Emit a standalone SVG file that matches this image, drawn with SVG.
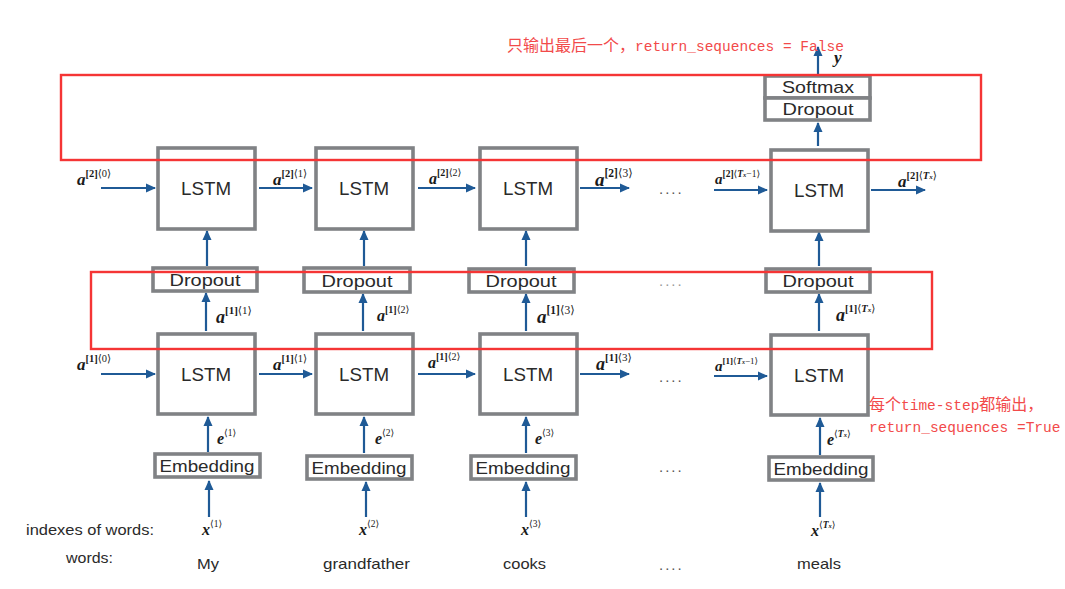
<svg xmlns="http://www.w3.org/2000/svg" width="1065" height="589" viewBox="0 0 1065 589">
<defs>
<marker id="ah" markerUnits="userSpaceOnUse" markerWidth="10" markerHeight="10" viewBox="0 0 10 10" refX="9" refY="5" orient="auto">
<path d="M0,0.5 L10,5 L0,9.5 Z" fill="#1f5a96"/>
</marker>
<style>
.box{fill:#fff;stroke:#808285;stroke-width:3.6}
.red{fill:none;stroke:#f53535;stroke-width:2.4}
.lbl{font-family:"Liberation Sans","Helvetica",Arial,sans-serif;fill:#2a2a2a}
.ar{stroke:#1f5a96;stroke-width:2.2;fill:none;marker-end:url(#ah)}
.m{font-family:"Liberation Serif","DejaVu Serif",serif;fill:#1a1a1a}
.v{font-weight:bold;font-style:italic}
.s{font-weight:bold}
.dots{font-family:"Liberation Sans",Arial,sans-serif;fill:#555;font-size:15px;letter-spacing:2px}
.rt{fill:#f24a4a}
.cj{font-family:"Noto Sans CJK SC","Noto Sans CJK JP",sans-serif;font-size:16px}
.mono{font-family:"Liberation Mono","Courier New",monospace;font-size:14.5px}
</style>
</defs>

<g id="connectors">
<line class="ar" x1="101" y1="188" x2="155" y2="188"/>
<line class="ar" x1="259" y1="188" x2="312" y2="188"/>
<line class="ar" x1="418" y1="188" x2="475" y2="188"/>
<line class="ar" x1="580" y1="188" x2="629" y2="188"/>
<line class="ar" x1="714" y1="190" x2="767" y2="190"/>
<line class="ar" x1="871" y1="190" x2="925" y2="190"/>
<line class="ar" x1="101" y1="374" x2="155" y2="374"/>
<line class="ar" x1="259" y1="374" x2="312" y2="374"/>
<line class="ar" x1="418" y1="374" x2="475" y2="374"/>
<line class="ar" x1="580" y1="374" x2="629" y2="374"/>
<line class="ar" x1="714" y1="376" x2="767" y2="376"/>
<line class="ar" x1="209" y1="517" x2="209" y2="481"/>
<line class="ar" x1="208" y1="452" x2="208" y2="417"/>
<line class="ar" x1="206" y1="331" x2="206" y2="293"/>
<line class="ar" x1="207" y1="266" x2="207" y2="231"/>
<line class="ar" x1="366" y1="517" x2="366" y2="482"/>
<line class="ar" x1="364" y1="453" x2="364" y2="417"/>
<line class="ar" x1="363" y1="331" x2="363" y2="294"/>
<line class="ar" x1="364" y1="266" x2="364" y2="231"/>
<line class="ar" x1="526" y1="517" x2="526" y2="482"/>
<line class="ar" x1="526" y1="453" x2="526" y2="417"/>
<line class="ar" x1="526" y1="331" x2="526" y2="294"/>
<line class="ar" x1="526" y1="266" x2="526" y2="231"/>
<line class="ar" x1="820" y1="517" x2="820" y2="483"/>
<line class="ar" x1="820" y1="455" x2="820" y2="418"/>
<line class="ar" x1="819" y1="331" x2="819" y2="294"/>
<line class="ar" x1="819" y1="266" x2="819" y2="232"/>
<line class="ar" x1="818" y1="146" x2="818" y2="123"/>
<line class="ar" x1="818" y1="74" x2="818" y2="47"/>
</g>

<g id="lstm2_1"><rect class="box" x="158" y="148" width="97" height="81"/><text class="lbl" x="206" y="195" font-size="18" text-anchor="middle" textLength="50" lengthAdjust="spacingAndGlyphs">LSTM</text></g>
<g id="lstm2_2"><rect class="box" x="316" y="148" width="97" height="81"/><text class="lbl" x="364" y="195" font-size="18" text-anchor="middle" textLength="50" lengthAdjust="spacingAndGlyphs">LSTM</text></g>
<g id="lstm2_3"><rect class="box" x="480" y="148" width="97" height="81"/><text class="lbl" x="528" y="195" font-size="18" text-anchor="middle" textLength="50" lengthAdjust="spacingAndGlyphs">LSTM</text></g>
<g id="lstm2_T"><rect class="box" x="771" y="150" width="97" height="81"/><text class="lbl" x="819" y="197" font-size="18" text-anchor="middle" textLength="50" lengthAdjust="spacingAndGlyphs">LSTM</text></g>

<g id="softmax"><rect class="box" x="765" y="76" width="105" height="22"/><text class="lbl" x="818" y="93" font-size="17" text-anchor="middle" textLength="72" lengthAdjust="spacingAndGlyphs">Softmax</text></g>
<g id="dropout_top"><rect class="box" x="765" y="98" width="105" height="22"/><text class="lbl" x="818" y="115" font-size="17" text-anchor="middle" textLength="71" lengthAdjust="spacingAndGlyphs">Dropout</text></g>

<g id="dropout_1"><rect class="box" x="153" y="268" width="104" height="23"/><text class="lbl" x="205" y="286" font-size="17" text-anchor="middle" textLength="71" lengthAdjust="spacingAndGlyphs">Dropout</text></g>
<g id="dropout_2"><rect class="box" x="304" y="268" width="106" height="24"/><text class="lbl" x="357" y="287" font-size="17" text-anchor="middle" textLength="71" lengthAdjust="spacingAndGlyphs">Dropout</text></g>
<g id="dropout_3"><rect class="box" x="469" y="269" width="105" height="23"/><text class="lbl" x="521" y="287" font-size="17" text-anchor="middle" textLength="71" lengthAdjust="spacingAndGlyphs">Dropout</text></g>
<g id="dropout_T"><rect class="box" x="766" y="269" width="104" height="23"/><text class="lbl" x="818" y="287" font-size="17" text-anchor="middle" textLength="71" lengthAdjust="spacingAndGlyphs">Dropout</text></g>

<g id="lstm1_1"><rect class="box" x="158" y="334" width="97" height="80"/><text class="lbl" x="206" y="381" font-size="18" text-anchor="middle" textLength="50" lengthAdjust="spacingAndGlyphs">LSTM</text></g>
<g id="lstm1_2"><rect class="box" x="316" y="334" width="97" height="80"/><text class="lbl" x="364" y="381" font-size="18" text-anchor="middle" textLength="50" lengthAdjust="spacingAndGlyphs">LSTM</text></g>
<g id="lstm1_3"><rect class="box" x="480" y="334" width="97" height="80"/><text class="lbl" x="528" y="381" font-size="18" text-anchor="middle" textLength="50" lengthAdjust="spacingAndGlyphs">LSTM</text></g>
<g id="lstm1_T"><rect class="box" x="771" y="335" width="97" height="80"/><text class="lbl" x="819" y="382" font-size="18" text-anchor="middle" textLength="50" lengthAdjust="spacingAndGlyphs">LSTM</text></g>

<g id="emb_1"><rect class="box" x="155" y="454" width="105" height="23"/><text class="lbl" x="207" y="472" font-size="17" text-anchor="middle" textLength="95" lengthAdjust="spacingAndGlyphs">Embedding</text></g>
<g id="emb_2"><rect class="box" x="307" y="456" width="105" height="23"/><text class="lbl" x="359" y="474" font-size="17" text-anchor="middle" textLength="95" lengthAdjust="spacingAndGlyphs">Embedding</text></g>
<g id="emb_3"><rect class="box" x="471" y="456" width="105" height="23"/><text class="lbl" x="523" y="474" font-size="17" text-anchor="middle" textLength="95" lengthAdjust="spacingAndGlyphs">Embedding</text></g>
<g id="emb_T"><rect class="box" x="769" y="457" width="104" height="23"/><text class="lbl" x="821" y="475" font-size="17" text-anchor="middle" textLength="95" lengthAdjust="spacingAndGlyphs">Embedding</text></g>

<g id="highlight_top"><rect class="red" x="61" y="75" width="920" height="85"/></g>
<g id="highlight_mid"><rect class="red" x="91" y="272" width="841" height="77"/></g>

<g id="labels" class="m">
<text x="77" y="185" font-size="17"><tspan class="v">a</tspan><tspan class="s" font-size="10.5" dy="-8">[2]</tspan><tspan font-size="10.5">⟨0⟩</tspan></text>
<text x="273" y="185" font-size="17"><tspan class="v">a</tspan><tspan class="s" font-size="10.5" dy="-8">[2]</tspan><tspan font-size="10.5">⟨1⟩</tspan></text>
<text x="429" y="184" font-size="16"><tspan class="v">a</tspan><tspan class="s" font-size="10" dy="-8">[2]</tspan><tspan font-size="10">⟨2⟩</tspan></text>
<text x="595" y="186" font-size="19"><tspan class="v">a</tspan><tspan class="s" font-size="11.5" dy="-9">[2]</tspan><tspan font-size="11.5">⟨3⟩</tspan></text>
<text x="715" y="184" font-size="15"><tspan class="v">a</tspan><tspan class="s" font-size="9.5" dy="-7">[2]</tspan><tspan font-size="9.5">⟨</tspan><tspan font-size="9.5" class="v">T</tspan><tspan font-size="6.5" class="v">x</tspan><tspan font-size="9.5">−1⟩</tspan></text>
<text x="898" y="187" font-size="17"><tspan class="v">a</tspan><tspan class="s" font-size="10.5" dy="-8">[2]</tspan><tspan font-size="10.5">⟨</tspan><tspan font-size="10.5" class="v">T</tspan><tspan font-size="7" class="v">x</tspan><tspan font-size="10.5">⟩</tspan></text>

<text x="216" y="323" font-size="18"><tspan class="v">a</tspan><tspan class="s" font-size="11" dy="-9">[1]</tspan><tspan font-size="11">⟨1⟩</tspan></text>
<text x="377" y="321" font-size="16"><tspan class="v">a</tspan><tspan class="s" font-size="10" dy="-8">[1]</tspan><tspan font-size="10">⟨2⟩</tspan></text>
<text x="537" y="323" font-size="19"><tspan class="v">a</tspan><tspan class="s" font-size="11.5" dy="-9">[1]</tspan><tspan font-size="11.5">⟨3⟩</tspan></text>
<text x="836" y="321" font-size="18"><tspan class="v">a</tspan><tspan class="s" font-size="10.5" dy="-9">[1]</tspan><tspan font-size="10.5">⟨</tspan><tspan font-size="10.5" class="v">T</tspan><tspan font-size="7" class="v">x</tspan><tspan font-size="10.5">⟩</tspan></text>

<text x="77" y="370" font-size="17"><tspan class="v">a</tspan><tspan class="s" font-size="10.5" dy="-8">[1]</tspan><tspan font-size="10.5">⟨0⟩</tspan></text>
<text x="273" y="370" font-size="17"><tspan class="v">a</tspan><tspan class="s" font-size="10.5" dy="-8">[1]</tspan><tspan font-size="10.5">⟨1⟩</tspan></text>
<text x="428" y="368" font-size="16"><tspan class="v">a</tspan><tspan class="s" font-size="10" dy="-8">[1]</tspan><tspan font-size="10">⟨2⟩</tspan></text>
<text x="596" y="370" font-size="18"><tspan class="v">a</tspan><tspan class="s" font-size="11" dy="-9">[1]</tspan><tspan font-size="11">⟨3⟩</tspan></text>
<text x="715" y="371" font-size="15"><tspan class="v">a</tspan><tspan class="s" font-size="9" dy="-7">[1]</tspan><tspan font-size="9">⟨</tspan><tspan font-size="9" class="v">T</tspan><tspan font-size="6" class="v">x</tspan><tspan font-size="9">−1⟩</tspan></text>

<text x="217" y="444" font-size="16"><tspan class="v">e</tspan><tspan font-size="9.5" dy="-8">⟨1⟩</tspan></text>
<text x="375" y="444" font-size="16"><tspan class="v">e</tspan><tspan font-size="9.5" dy="-8">⟨2⟩</tspan></text>
<text x="535" y="444" font-size="16"><tspan class="v">e</tspan><tspan font-size="9.5" dy="-8">⟨3⟩</tspan></text>
<text x="827" y="445" font-size="16"><tspan class="v">e</tspan><tspan font-size="9.5" dy="-8">⟨</tspan><tspan font-size="9.5" class="v">T</tspan><tspan font-size="6.5" class="v">x</tspan><tspan font-size="9.5">⟩</tspan></text>

<text x="202" y="535" font-size="16"><tspan class="v">x</tspan><tspan font-size="9.5" dy="-8">⟨1⟩</tspan></text>
<text x="359" y="535" font-size="16"><tspan class="v">x</tspan><tspan font-size="9.5" dy="-8">⟨2⟩</tspan></text>
<text x="521" y="535" font-size="16"><tspan class="v">x</tspan><tspan font-size="9.5" dy="-8">⟨3⟩</tspan></text>
<text x="811" y="536" font-size="16"><tspan class="v">x</tspan><tspan font-size="9.5" dy="-8">⟨</tspan><tspan font-size="9.5" class="v">T</tspan><tspan font-size="6.5" class="v">x</tspan><tspan font-size="9.5">⟩</tspan></text>

<text x="834" y="63" font-size="17" class="v">y</text>
</g>

<g id="ellipses">
<text class="dots" x="659" y="194">....</text>
<text class="dots" x="659" y="286" style="fill:#999">....</text>
<text class="dots" x="659" y="382">....</text>
<text class="dots" x="659" y="472">....</text>
<text class="dots" x="659" y="570">....</text>
</g>

<g id="words" class="lbl" font-size="15">
<text x="26" y="535" font-size="14" textLength="128" lengthAdjust="spacingAndGlyphs">indexes of words:</text>
<text x="66" y="563" font-size="14" textLength="47" lengthAdjust="spacingAndGlyphs">words:</text>
<text x="197" y="569" textLength="22" lengthAdjust="spacingAndGlyphs">My</text>
<text x="323" y="569" textLength="87" lengthAdjust="spacingAndGlyphs">grandfather</text>
<text x="503" y="569" textLength="43" lengthAdjust="spacingAndGlyphs">cooks</text>
<text x="797" y="569" textLength="44" lengthAdjust="spacingAndGlyphs">meals</text>
</g>

<g id="annotations" class="rt">
<text x="507" y="51"><tspan class="cj">只输出最后一个，</tspan><tspan class="mono">return_sequences = False</tspan></text>
<text x="869" y="410"><tspan class="cj">每个</tspan><tspan class="mono">time-step</tspan><tspan class="cj">都输出，</tspan></text>
<text x="869" y="432" class="mono">return_sequences =True</text>
</g>
</svg>
